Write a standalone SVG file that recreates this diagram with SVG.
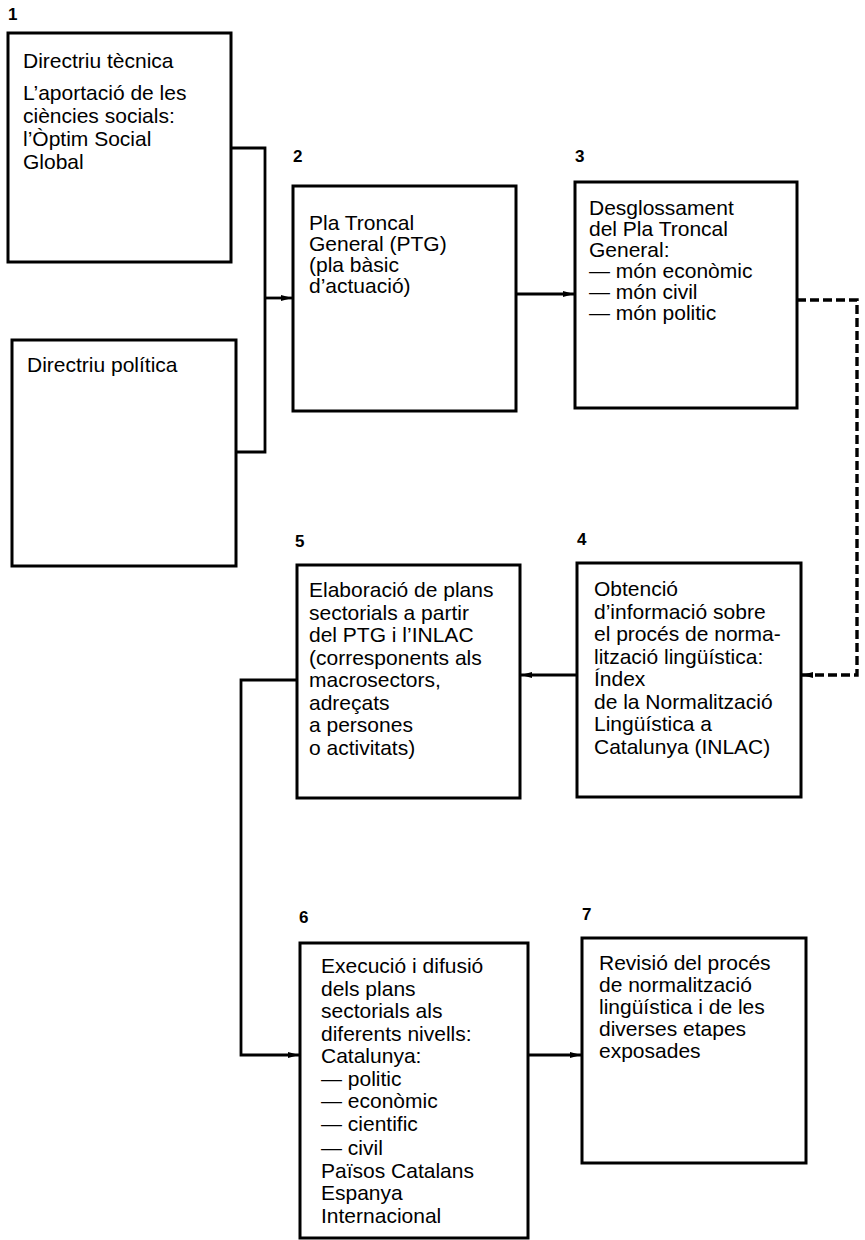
<svg xmlns="http://www.w3.org/2000/svg" width="865" height="1240" viewBox="0 0 865 1240">
<style>
.box{fill:#fff;stroke:#000;stroke-width:3}
.t{font-family:"Liberation Sans",Arial,sans-serif;font-size:21px;fill:#000}
.n{font-family:"Liberation Sans",Arial,sans-serif;font-size:17px;font-weight:bold;fill:#000}
.c{fill:none;stroke:#000;stroke-width:2.8}
.d{fill:none;stroke:#000;stroke-width:3.4;stroke-dasharray:9 4}
</style>
<defs>
<marker id="ah" markerWidth="12" markerHeight="8" refX="11" refY="4" orient="auto" markerUnits="userSpaceOnUse">
<path d="M0,1 L11,4 L0,7 Z" fill="#000"/>
</marker>
</defs>
<rect width="865" height="1240" fill="#fff"/>
<g id="connectors">
<path class="c" d="M231,148 H265 V452 H236"/>
<path class="c" d="M265,298 H292" marker-end="url(#ah)"/>
<path class="c" d="M516,294 H574" marker-end="url(#ah)"/>
<path class="d" d="M797,300 H857 V675 H802" marker-end="url(#ah)"/>
<path class="c" d="M577,675 H521" marker-end="url(#ah)"/>
<path class="c" d="M297,680 H241 V1055 H299" marker-end="url(#ah)"/>
<path class="c" d="M528,1055 H581" marker-end="url(#ah)"/>
</g>
<g id="n1a">
<text class="n" x="8" y="20">1</text>
<rect class="box" x="8" y="33" width="223" height="229"/>
<text class="t" x="23" y="68">Directriu tècnica</text>
<text class="t" x="23" y="100">L’aportació de les</text>
<text class="t" x="23" y="123">ciències socials:</text>
<text class="t" x="23" y="146">l’Òptim Social</text>
<text class="t" x="23" y="169">Global</text>
</g>
<g id="n1b">
<rect class="box" x="12" y="340" width="224" height="226"/>
<text class="t" x="27" y="372">Directriu política</text>
</g>
<g id="n2">
<text class="n" x="293" y="162">2</text>
<rect class="box" x="293" y="186" width="223" height="225"/>
<text class="t" x="309" y="230">Pla Troncal</text>
<text class="t" x="309" y="251">General (PTG)</text>
<text class="t" x="309" y="272">(pla bàsic</text>
<text class="t" x="309" y="293">d’actuació)</text>
</g>
<g id="n3">
<text class="n" x="575" y="162">3</text>
<rect class="box" x="575" y="182" width="222" height="226"/>
<text class="t" x="589" y="215">Desglossament</text>
<text class="t" x="589" y="236">del Pla Troncal</text>
<text class="t" x="589" y="257">General:</text>
<text class="t" x="589" y="278">— món econòmic</text>
<text class="t" x="589" y="299">— món civil</text>
<text class="t" x="589" y="320">— món politic</text>
</g>
<g id="n4">
<text class="n" x="577" y="545">4</text>
<rect class="box" x="577" y="563" width="224" height="234"/>
<text class="t" x="594" y="596">Obtenció</text>
<text class="t" x="594" y="618.5">d’informació sobre</text>
<text class="t" x="594" y="641">el procés de norma-</text>
<text class="t" x="594" y="663.5">lització  lingüística:</text>
<text class="t" x="594" y="686">Índex</text>
<text class="t" x="594" y="708.5">de la Normalització</text>
<text class="t" x="594" y="731">Lingüística a</text>
<text class="t" x="594" y="753.5">Catalunya (INLAC)</text>
</g>
<g id="n5">
<text class="n" x="295" y="547">5</text>
<rect class="box" x="297" y="565" width="223" height="233"/>
<text class="t" x="309" y="597">Elaboració de plans</text>
<text class="t" x="309" y="619.5">sectorials a partir</text>
<text class="t" x="309" y="642">del PTG i l’INLAC</text>
<text class="t" x="309" y="664.5">(corresponents als</text>
<text class="t" x="309" y="687">macrosectors,</text>
<text class="t" x="309" y="709.5">adreçats</text>
<text class="t" x="309" y="732">a persones</text>
<text class="t" x="309" y="754.5">o activitats)</text>
</g>
<g id="n6">
<text class="n" x="299" y="923">6</text>
<rect class="box" x="300" y="943" width="228" height="295"/>
<text class="t" x="321" y="973">Execució i difusió</text>
<text class="t" x="321" y="995.5">dels plans</text>
<text class="t" x="321" y="1018">sectorials als</text>
<text class="t" x="321" y="1040.5">diferents nivells:</text>
<text class="t" x="321" y="1063">Catalunya:</text>
<text class="t" x="321" y="1085.5">— politic</text>
<text class="t" x="321" y="1108">— econòmic</text>
<text class="t" x="321" y="1130.5">— cientific</text>
<text class="t" x="321" y="1155">— civil</text>
<text class="t" x="321" y="1177.5">Països Catalans</text>
<text class="t" x="321" y="1200">Espanya</text>
<text class="t" x="321" y="1222.5">Internacional</text>
</g>
<g id="n7">
<text class="n" x="582" y="920">7</text>
<rect class="box" x="582" y="938" width="224" height="225"/>
<text class="t" x="599" y="970">Revisió del procés</text>
<text class="t" x="599" y="992">de normalització</text>
<text class="t" x="599" y="1014">lingüística i de les</text>
<text class="t" x="599" y="1036">diverses etapes</text>
<text class="t" x="599" y="1058">exposades</text>
</g>
</svg>
